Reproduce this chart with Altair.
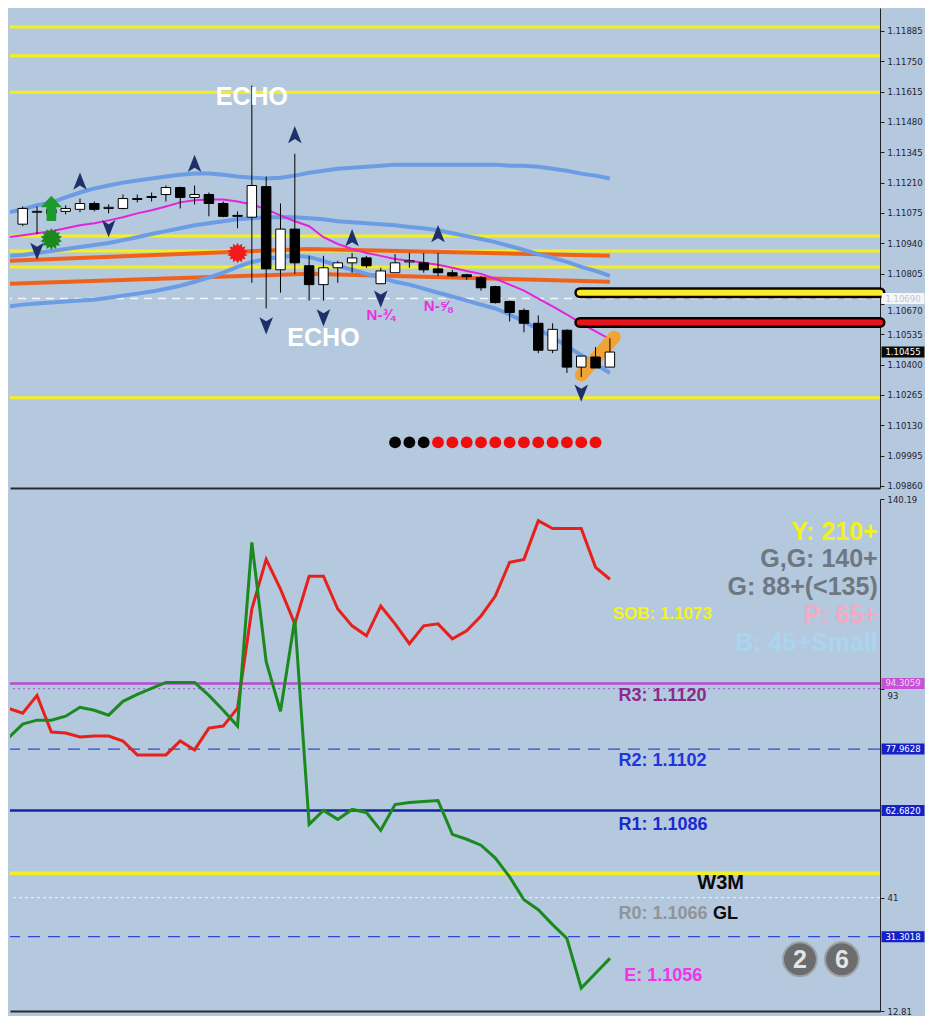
import math
import altair as alt
import pandas as pd

# ---------------- upper panel: candles ----------------
candle_i = list(range(42))
opens = [1.11025, 1.11078, 1.11091, 1.11082, 1.11091, 1.11117, 1.11095, 1.11095, 1.11135, 1.11144,
         1.11157, 1.11188, 1.11144, 1.11157, 1.11117, 1.11064, 1.11056, 1.11192, 1.10822, 1.11003,
         1.10840, 1.10756, 1.10831, 1.10853, 1.10875, 1.10760, 1.10809, 1.10857, 1.10853, 1.10826,
         1.10809, 1.10800, 1.10787, 1.10747, 1.10681, 1.10641, 1.10584, 1.10464, 1.10553, 1.10389,
         1.10434, 1.10389]
highs = [1.11104, 1.11104, 1.11113, 1.11109, 1.11139, 1.11126, 1.11113, 1.11157, 1.11157, 1.11166,
         1.11197, 1.11192, 1.11197, 1.11166, 1.11126, 1.11082, 1.11642, 1.11237, 1.11117, 1.11338,
         1.10884, 1.10884, 1.10862, 1.10897, 1.10884, 1.10831, 1.10892, 1.10897, 1.10897, 1.10897,
         1.10822, 1.10804, 1.10795, 1.10751, 1.10685, 1.10650, 1.10619, 1.10584, 1.10557, 1.10438,
         1.10478, 1.10517]
lows = [1.11016, 1.10981, 1.11060, 1.11069, 1.11078, 1.11082, 1.11073, 1.11091, 1.11122, 1.11126,
        1.11126, 1.11095, 1.11113, 1.11060, 1.11056, 1.11007, 1.10764, 1.10650, 1.10720, 1.10804,
        1.10685, 1.10685, 1.10764, 1.10809, 1.10831, 1.10760, 1.10809, 1.10831, 1.10809, 1.10795,
        1.10791, 1.10778, 1.10729, 1.10672, 1.10592, 1.10544, 1.10451, 1.10451, 1.10363, 1.10345,
        1.10385, 1.10389]
closes = [1.11095, 1.11082, 1.11073, 1.11095, 1.11117, 1.11091, 1.11100, 1.11139, 1.11139, 1.11148,
          1.11188, 1.11144, 1.11157, 1.11117, 1.11060, 1.11060, 1.11197, 1.10826, 1.11003, 1.10853,
          1.10756, 1.10831, 1.10853, 1.10875, 1.10840, 1.10817, 1.10853, 1.10862, 1.10822, 1.10809,
          1.10795, 1.10791, 1.10742, 1.10676, 1.10632, 1.10584, 1.10464, 1.10557, 1.10389, 1.10438,
          1.10385, 1.10456]

# indicator lines (index -1 .. 41)
line_i = list(range(-1, 42))
bb_upper = [1.11078, 1.11091, 1.11109, 1.11122, 1.11144, 1.11166, 1.11184, 1.11197, 1.11210, 1.11219,
            1.11228, 1.11237, 1.11245, 1.11250, 1.11250, 1.11245, 1.11237, 1.11232, 1.11228, 1.11232,
            1.11241, 1.11254, 1.11263, 1.11272, 1.11276, 1.11281, 1.11285, 1.11290, 1.11290, 1.11290,
            1.11290, 1.11290, 1.11290, 1.11290, 1.11290, 1.11285, 1.11285, 1.11281, 1.11272, 1.11263,
            1.11250, 1.11241, 1.11228]
bb_mid = [1.10884, 1.10888, 1.10897, 1.10906, 1.10915, 1.10923, 1.10932, 1.10941, 1.10954, 1.10967,
          1.10981, 1.10994, 1.11007, 1.11020, 1.11029, 1.11038, 1.11047, 1.11051, 1.11056, 1.11056,
          1.11056, 1.11051, 1.11047, 1.11038, 1.11034, 1.11029, 1.11025, 1.11020, 1.11012, 1.11007,
          1.10998, 1.10985, 1.10972, 1.10959, 1.10945, 1.10928, 1.10910, 1.10892, 1.10875, 1.10857,
          1.10835, 1.10817, 1.10795]
bb_lower = [1.10659, 1.10667, 1.10672, 1.10676, 1.10681, 1.10685, 1.10689, 1.10698, 1.10707, 1.10716,
            1.10725, 1.10738, 1.10751, 1.10769, 1.10787, 1.10809, 1.10835, 1.10857, 1.10870, 1.10879,
            1.10884, 1.10879, 1.10862, 1.10840, 1.10822, 1.10804, 1.10787, 1.10769, 1.10756, 1.10738,
            1.10720, 1.10703, 1.10685, 1.10667, 1.10650, 1.10623, 1.10592, 1.10557, 1.10522, 1.10482,
            1.10442, 1.10403, 1.10363]
ma_magenta = [1.10967, 1.10976, 1.10985, 1.10994, 1.11007, 1.11020, 1.11029, 1.11042, 1.11056, 1.11073,
              1.11087, 1.11104, 1.11122, 1.11131, 1.11135, 1.11135, 1.11126, 1.11113, 1.11091, 1.11064,
              1.11038, 1.11016, 1.10967, 1.10937, 1.10915, 1.10897, 1.10884, 1.10870, 1.10862, 1.10853,
              1.10844, 1.10831, 1.10817, 1.10804, 1.10782, 1.10756, 1.10729, 1.10694, 1.10659, 1.10623,
              1.10584, 1.10548, 1.10513]

orange_i = [-1, 20, 41]
orange_upper = [1.10862, 1.10915, 1.10884]
orange_lower = [1.10760, 1.10804, 1.10769]

yellow_levels = [1.11903, 1.11775, 1.11612, 1.10972, 1.10906, 1.10835, 1.10253]
dashed_level = [1.10694]
bar_levels = [1.10720, 1.10588]
bar_colors = ["#f6ee2a", "#e8141c"]
bar_start = [38.9, 38.9]
bar_end = [59.86, 59.86]

up_arrow_i = [4, 12, 19, 23, 29]
up_arrow_p = [1.11215, 1.11294, 1.11422, 1.10963, 1.10981]
down_arrow_i = [1, 6, 17, 21, 25, 39]
down_arrow_p = [1.10906, 1.11007, 1.10575, 1.10610, 1.10694, 1.10275]

green_arrow_i, green_arrow_p = [2], [1.11095]
green_star_i, green_star_p = [2], [1.10959]
red_star_i, red_star_p = [15], [1.10897]

dot_i = list(range(26, 41))
dot_colors = ["#050505"] * 3 + ["#f20d0d"] * 12
dot_level = 1.10054

highlight_i = [39, 41.3]
highlight_p = [1.10354, 1.10522]

echo_text = ["ECHO", "ECHO"]
echo_i = [16, 21]
echo_p = [1.11590, 1.10517]
n_text = ["N-¾", "N-⅝"]
n_i = [25, 29]
n_p = [1.10619, 1.10663]

up_ticks = [1.09860, 1.09995, 1.10130, 1.10265, 1.10400, 1.10535, 1.10670, 1.10805,
            1.10940, 1.11075, 1.11210, 1.11345, 1.11480, 1.11615, 1.11750, 1.11885]
up_badges = ["1.10690", "1.10455"]
up_badge_p = [1.10694, 1.10456]
up_badge_fill = ["#f4f6fa", "#0a0a0a"]
up_badge_text = ["#c0c6d0", "#ffffff"]

# ---------------- lower panel ----------------
osc_i = list(range(-1, 42))
red_line = [88.13, 86.90, 91.34, 82.21, 81.96, 80.97, 81.22, 81.22, 79.98, 76.53,
            76.53, 76.53, 79.98, 77.76, 83.19, 83.69, 88.13, 112.82, 125.17, 117.76,
            109.12, 120.97, 120.97, 112.82, 108.63, 106.16, 113.57, 109.12, 104.18, 108.63,
            109.12, 105.42, 107.39, 111.10, 116.03, 124.43, 125.17, 134.80, 132.83, 132.83,
            132.83, 123.20, 120.23]
green_line = [80.73, 84.18, 85.17, 85.17, 86.16, 88.38, 87.64, 86.41, 89.86, 91.59,
              93.07, 94.55, 94.55, 94.55, 91.34, 87.64, 83.69, 129.37, 99.74, 87.39,
              110.36, 59.24, 62.70, 60.48, 62.95, 62.21, 57.76, 64.18, 64.68, 64.92,
              65.17, 56.77, 55.54, 54.06, 50.85, 46.16, 40.48, 38.01, 34.31, 30.85,
              18.50, 22.21, 25.91]

lo_ticks = [140.19, 93, 41, 12.81]
lo_badges = ["94.3059", "77.9628", "62.6820", "31.3018"]
lo_badge_v = [94.3059, 77.9628, 62.6820, 31.3018]
lo_badge_fill = ["#c453d6", "#1620c8", "#1620c8", "#1620c8"]
lo_badge_text = ["#f7d4f7", "#ffffff", "#ffffff", "#ffffff"]

right_text = ["Y: 210+", "G,G: 140+", "G: 88+(<135)", "P: 65+", "B: 45+Small"]
right_text_v = [132.09, 125.17, 118.26, 111.34, 104.43]
right_text_color = ["#f2f21a", "#6f7880", "#6f7880", "#f3aac4", "#a9d6ee"]

pivot_text = ["SOB: 1.1073", "R3: 1.1120", "R2: 1.1102", "R1: 1.1086", "W3M", "R0: 1.1066", "GL", "E: 1.1056"]
pivot_i = [41.2, 41.6, 41.6, 41.6, 47.1, 41.6, 48.2, 42.0]
pivot_v = [111.59, 91.10, 75.05, 59.0, 44.68, 37.03, 37.03, 21.47]
pivot_color = ["#f4f41c", "#8c2a8c", "#2233e0", "#1a2ad0", "#0a0a0a", "#8f9599", "#0a0a0a", "#f233ea"]
pivot_size = [17, 18, 18, 18, 20, 18, 18, 18]

circle_text = ["2", "6"]
circle_i = [54.27, 57.2]
circle_v = [25.67, 25.67]

# ---------------- geometry / style ----------------
W, H1, H2 = 870, 480, 512
XS = alt.Scale(domain=[-0.887, 59.86], nice=False, zero=False)
YU = alt.Scale(domain=[1.09851, 1.11987], nice=False, zero=False)
YL = alt.Scale(domain=[12.81, 140.19], nice=False, zero=False)
BOLD = "Liberation Sans, Arial, sans-serif"


def star_path(n, inner):
    pts = []
    for k in range(2 * n):
        a = math.pi * k / n
        r = 1.0 if k % 2 == 0 else inner
        pts.append(f"{r * math.sin(a):.3f},{-r * math.cos(a):.3f}")
    return "M" + "L".join(pts) + "Z"


UP_ARROW = "M0,-1L0.75,0.9L0,0.45L-0.75,0.9Z"
DOWN_ARROW = "M0,1L0.75,-0.9L0,-0.45L-0.75,-0.9Z"
FAT_ARROW = "M0,-1L0.85,-0.1L0.38,-0.1L0.38,1L-0.38,1L-0.38,-0.1L-0.85,-0.1Z"
BADGE = "M-3.9,-1L3.9,-1L3.9,1L-3.9,1Z"

X_AXIS = alt.Axis(labels=False, ticks=False, title=None, grid=False,
                  domainColor="#2a2a2a", domainWidth=2)
UP_AXIS = alt.Axis(orient="right", values=up_ticks, format=".5f", title=None, grid=False,
                   tickSize=4, labelFontSize=8.5, labelColor="#1e2430", labelFont="DejaVu Sans",
                   domainColor="#222222", tickColor="#222222", labelPadding=3,
                   labelOffset={"condition": {"test": "abs(datum.value - 1.1067) < 0.00001", "value": 7},
                                "value": 0})
LO_AXIS = alt.Axis(orient="right", values=lo_ticks, labelExpr="toString(datum.value)", title=None,
                   grid=False, tickSize=4, labelFontSize=8.5, labelColor="#1e2430",
                   labelFont="DejaVu Sans", domainColor="#222222", tickColor="#222222", labelPadding=3,
                   labelOffset={"condition": {"test": "datum.value == 93", "value": 7}, "value": 0})

xn = lambda f: alt.X(f"{f}:Q", scale=XS, axis=X_AXIS)
yu = lambda f: alt.Y(f"{f}:Q", scale=YU, axis=UP_AXIS)
yl = lambda f: alt.Y(f"{f}:Q", scale=YL, axis=LO_AXIS)
lit = lambda f: alt.Color(f"{f}:N", scale=None)

# ---------------- upper panel layers ----------------
df_c = pd.DataFrame({"i": candle_i, "o": opens, "h": highs, "l": lows, "c": closes})
df_c["body"] = ["#ffffff" if c >= o else "#000000" for o, c in zip(opens, closes)]

yellow = alt.Chart(pd.DataFrame({"p": yellow_levels})).mark_rule(
    color="#f3f01e", strokeWidth=3).encode(y=yu("p"))

dashed = alt.Chart(pd.DataFrame({"p": dashed_level})).mark_rule(
    color="#f4f6fb", strokeWidth=1.5, strokeDash=[8, 6]).encode(y=yu("p"))

df_or = pd.DataFrame({"i": orange_i * 2, "p": orange_upper + orange_lower,
                      "s": ["u"] * 3 + ["l"] * 3})
orange = alt.Chart(df_or).mark_line(color="#f0621c", strokeWidth=4, clip=True).encode(
    x=xn("i"), y=yu("p"), detail="s:N")

df_bb = pd.DataFrame({"i": line_i * 3, "p": bb_upper + bb_mid + bb_lower,
                      "s": ["u"] * 43 + ["m"] * 43 + ["l"] * 43})
bands = alt.Chart(df_bb).mark_line(color="#6c9ce4", strokeWidth=4, clip=True).encode(
    x=xn("i"), y=yu("p"), detail="s:N")

magenta = alt.Chart(pd.DataFrame({"i": line_i, "p": ma_magenta})).mark_line(
    color="#e424d8", strokeWidth=2, clip=True).encode(x=xn("i"), y=yu("p"))

highlight = alt.Chart(pd.DataFrame({"i": highlight_i, "p": highlight_p})).mark_line(
    color="#f4a22c", strokeWidth=13, strokeCap="round", opacity=0.95).encode(x=xn("i"), y=yu("p"))

df_bar = pd.DataFrame({"p": bar_levels, "a": bar_start, "b": bar_end, "c": bar_colors})
bar_outer = alt.Chart(df_bar).mark_rule(strokeWidth=11, strokeCap="round", color="#120000").encode(
    x=xn("a"), x2="b:Q", y=yu("p"))
bar_inner = alt.Chart(df_bar).mark_rule(strokeWidth=6, strokeCap="round").encode(
    x=xn("a"), x2="b:Q", y=yu("p"), color=lit("c"))

wicks = alt.Chart(df_c).mark_rule(color="#000000", strokeWidth=1).encode(
    x=xn("i"), y=yu("l"), y2="h:Q")

bodies = alt.Chart(df_c).transform_calculate(
    xl="datum.i - 0.33", xr="datum.i + 0.33").mark_rect(stroke="#000000", strokeWidth=1).encode(
    x=xn("xl"), x2="xr:Q", y=yu("o"), y2="c:Q", fill=alt.Fill("body:N", scale=None))

up_arrows = alt.Chart(pd.DataFrame({"i": up_arrow_i, "p": up_arrow_p})).mark_point(
    shape=UP_ARROW, filled=True, size=330, color="#1f2f6a", opacity=1).encode(x=xn("i"), y=yu("p"))
down_arrows = alt.Chart(pd.DataFrame({"i": down_arrow_i, "p": down_arrow_p})).mark_point(
    shape=DOWN_ARROW, filled=True, size=330, color="#1f2f6a", opacity=1).encode(x=xn("i"), y=yu("p"))

green_arrow = alt.Chart(pd.DataFrame({"i": green_arrow_i, "p": green_arrow_p})).mark_point(
    shape=FAT_ARROW, filled=True, size=640, color="#1c9a2c", opacity=1).encode(x=xn("i"), y=yu("p"))
green_star = alt.Chart(pd.DataFrame({"i": green_star_i, "p": green_star_p})).mark_point(
    shape=star_path(14, 0.72), filled=True, size=480, color="#1a8a1e", opacity=1).encode(
    x=xn("i"), y=yu("p"))
red_star = alt.Chart(pd.DataFrame({"i": red_star_i, "p": red_star_p})).mark_point(
    shape=star_path(14, 0.72), filled=True, size=420, color="#f21a1a", opacity=1).encode(
    x=xn("i"), y=yu("p"))

dots = alt.Chart(pd.DataFrame({"i": dot_i, "c": dot_colors, "p": [dot_level] * len(dot_i)})).mark_point(
    shape="circle", filled=True, size=140, opacity=1).encode(x=xn("i"), y=yu("p"), color=lit("c"))

echo = alt.Chart(pd.DataFrame({"t": echo_text, "i": echo_i, "p": echo_p})).mark_text(
    font=BOLD, fontWeight="bold", fontSize=25, color="#ffffff", align="center",
    baseline="middle").encode(x=xn("i"), y=yu("p"), text="t:N")
nlab = alt.Chart(pd.DataFrame({"t": n_text, "i": n_i, "p": n_p})).mark_text(
    font=BOLD, fontWeight="bold", fontSize=15, color="#e830e0", align="center",
    baseline="middle").encode(x=xn("i"), y=yu("p"), text="t:N")

df_ub = pd.DataFrame({"t": up_badges, "p": up_badge_p, "f": up_badge_fill, "tc": up_badge_text})
up_badge_box = alt.Chart(df_ub).mark_point(shape=BADGE, filled=True, size=121, opacity=1).encode(
    x=alt.value(W + 23), y=yu("p"), color=lit("f"))
up_badge_lab = alt.Chart(df_ub).mark_text(fontSize=8.5, font="DejaVu Sans", align="center",
                                          baseline="middle").encode(
    x=alt.value(W + 23), y=yu("p"), text="t:N", color=lit("tc"))

upper = alt.layer(yellow, dashed, orange, bands, magenta, highlight, bar_outer, bar_inner,
                  wicks, bodies, up_arrows, down_arrows, green_arrow, green_star, red_star, dots,
                  echo, nlab, up_badge_box, up_badge_lab).properties(width=W, height=H1)

# ---------------- lower panel layers ----------------
def level(values, color, width, dash=None):
    kw = dict(color=color, strokeWidth=width)
    if dash:
        kw["strokeDash"] = dash
    return alt.Chart(pd.DataFrame({"v": values})).mark_rule(**kw).encode(y=yl("v"))


lv_purple = level([94.3059], "#b84ad2", 2.5)
lv_purple_dot = level([93], "#9a5cc4", 1, [2, 3])
lv_r2 = level([77.9628], "#3048d8", 1.3, [12, 8])
lv_r1 = level([62.6820], "#1424a8", 2.5)
lv_yellow = level([47.1], "#f0f028", 3.5)
lv_dot41 = level([41], "#e6ecf4", 1.2, [3, 3])
lv_31 = level([31.3018], "#3048d8", 1.3, [12, 8])

df_osc = pd.DataFrame({"i": osc_i * 2, "v": red_line + green_line,
                       "s": ["#e8201c"] * 43 + ["#1a8a1e"] * 43})
osc = alt.Chart(df_osc).mark_line(strokeWidth=3, clip=True).encode(
    x=xn("i"), y=yl("v"), detail="s:N", color=lit("s"))

df_rt = pd.DataFrame({"t": right_text, "v": right_text_v, "c": right_text_color,
                      "i": [59.7] * len(right_text)})
rtext = alt.Chart(df_rt).mark_text(font=BOLD, fontWeight="bold", fontSize=25, align="right",
                                   baseline="middle").encode(
    x=xn("i"), y=yl("v"), text="t:N", color=lit("c"))

df_pv = pd.DataFrame({"t": pivot_text, "i": pivot_i, "v": pivot_v, "c": pivot_color, "s": pivot_size})
ptext = alt.Chart(df_pv).mark_text(font=BOLD, fontWeight="bold", align="left",
                                   baseline="middle").encode(
    x=xn("i"), y=yl("v"), text="t:N", color=lit("c"), size=alt.Size("s:Q", scale=None))

df_ci = pd.DataFrame({"t": circle_text, "i": circle_i, "v": circle_v})
circ = alt.Chart(df_ci).mark_point(shape="circle", filled=True, size=1150, color="#6a6c6e",
                                   opacity=1, stroke="#9ea2a6", strokeWidth=2).encode(
    x=xn("i"), y=yl("v"))
circ_t = alt.Chart(df_ci).mark_text(font=BOLD, fontWeight="bold", fontSize=25, color="#e2e4e6",
                                    align="center", baseline="middle", dy=1).encode(
    x=xn("i"), y=yl("v"), text="t:N")

df_lb = pd.DataFrame({"t": lo_badges, "v": lo_badge_v, "f": lo_badge_fill, "tc": lo_badge_text})
lo_badge_box = alt.Chart(df_lb).mark_point(shape=BADGE, filled=True, size=121, opacity=1).encode(
    x=alt.value(W + 23), y=yl("v"), color=lit("f"))
lo_badge_lab = alt.Chart(df_lb).mark_text(fontSize=8.5, font="DejaVu Sans", align="center",
                                          baseline="middle").encode(
    x=alt.value(W + 23), y=yl("v"), text="t:N", color=lit("tc"))

lower = alt.layer(lv_purple, lv_purple_dot, lv_r2, lv_r1, lv_yellow, lv_dot41, lv_31, osc,
                  rtext, ptext, circ, circ_t, lo_badge_box, lo_badge_lab).properties(width=W, height=H2)

chart = alt.vconcat(upper, lower, spacing=4, padding=0).configure(
    background="#b4c8de").configure_view(stroke=None)

chart.save("out.html", embed_options={"renderer": "svg", "actions": False})
